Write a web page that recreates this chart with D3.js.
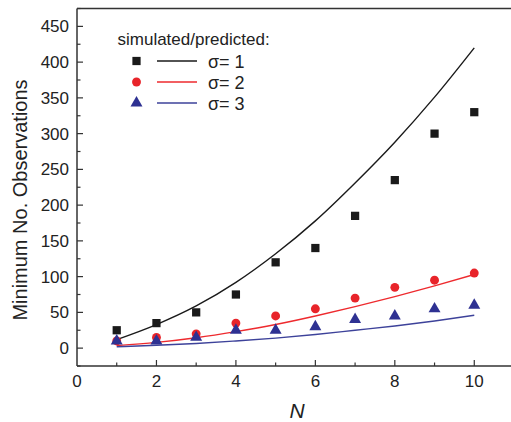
<!DOCTYPE html>
<html><head><meta charset="utf-8">
<script src="https://cdn.jsdelivr.net/npm/d3@7"></script>
<style>body{margin:0;background:#fff}svg{display:block}text{font-family:"Liberation Sans",Arial,sans-serif}</style>
</head><body>
<script>
const N = [1,2,3,4,5,6,7,8,9,10];
const sim1 = [25,35,50,75,120,140,185,235,300,330];
const sim2 = [10,15,20,35,45,55,70,85,95,105];
const sim3 = [10,10,15,25,25,30,40,45,55,60];
const pred1 = [12,33,59,92,132,178,231,288,351,420];
const pred2 = [3.5,8,14.5,23,33,45,58,72,87,103];
const pred3 = [2,4,6.5,10,14,19,25,31,38,46];
const yTicks = [0,50,100,150,200,250,300,350,400,450];
const xTicks = [0,2,4,6,8,10];
const seriesNames = ["σ= 1","σ= 2","σ= 3"];
const colors = ["#1a1a1a","#e8242a","#2e3192"];
const lineColors = ["#1a1a1a","#ee2a2e","#3d429a"];

const W=511,H=422;
const svg=d3.select("body").append("svg").attr("width",W).attr("height",H);
const L=77,T=8.5,B=366;
const x=d3.scaleLinear().domain([0,11]).range([L,L+437]);
const y=d3.scaleLinear().domain([-25,475]).range([B,T]);
const axisColor="#333";

// frame
svg.append("line").attr("x1",L).attr("x2",W).attr("y1",T).attr("y2",T).attr("stroke",axisColor).attr("stroke-width",1.5);
svg.append("line").attr("x1",L).attr("x2",W).attr("y1",B).attr("y2",B).attr("stroke",axisColor).attr("stroke-width",1.5);
svg.append("line").attr("x1",L).attr("x2",L).attr("y1",T).attr("y2",B).attr("stroke",axisColor).attr("stroke-width",1.5);

// y ticks
const yMinor=d3.range(-25,476,25);
svg.append("g").selectAll("line").data(yMinor).join("line")
 .attr("x1",L).attr("x2",d=>L+(d%50===0?6:3.5))
 .attr("y1",d=>y(d)).attr("y2",d=>y(d)).attr("stroke",axisColor).attr("stroke-width",1.2);
svg.append("g").selectAll("text").data(yTicks).join("text")
 .attr("x",L-8).attr("y",d=>y(d)+6).attr("text-anchor","end").attr("font-size",17).attr("fill","#222").text(d=>d);

// x ticks
const xMinor=d3.range(1,11,1);
svg.append("g").selectAll("line").data(xMinor).join("line")
 .attr("x1",d=>x(d)).attr("x2",d=>x(d)).attr("y1",B).attr("y2",d=>B-(d%2===0?6:3.5))
 .attr("stroke",axisColor).attr("stroke-width",1.2);
svg.append("g").selectAll("text").data(xTicks).join("text")
 .attr("x",d=>x(d)).attr("y",387).attr("text-anchor","middle").attr("font-size",17).attr("fill","#222").text(d=>d);

// axis titles
svg.append("text").attr("x",297).attr("y",418).attr("text-anchor","middle").attr("font-size",21).attr("font-style","italic").attr("fill","#222").text("N");
svg.append("text").attr("transform","translate(27,200) rotate(-90)").attr("text-anchor","middle").attr("font-size",20).attr("fill","#222").text("Minimum No. Observations");

// lines
const line=d3.line().x((d,i)=>x(N[i])).y(d=>y(d)).curve(d3.curveMonotoneX);
[pred1,pred2,pred3].forEach((p,k)=>{
  svg.append("path").datum(p).attr("d",line).attr("fill","none").attr("stroke",lineColors[k]).attr("stroke-width",1.4);
});

// markers
const sym=[d3.symbolSquare,d3.symbolCircle,d3.symbolTriangle];
const sizes=[68,62,62];
[sim1,sim2,sim3].forEach((s,k)=>{
  svg.append("g").selectAll("path").data(s).join("path")
   .attr("transform",(d,i)=>`translate(${x(N[i])},${y(d)})`)
   .attr("d",d3.symbol().type(sym[k]).size(sizes[k])).attr("fill",colors[k]);
});

// legend
svg.append("text").attr("x",117.5).attr("y",45).attr("font-size",17).attr("fill","#222").text("simulated/predicted:");
const ly=[61,82,103];
seriesNames.forEach((n,k)=>{
  svg.append("path").attr("transform",`translate(136.5,${ly[k]})`).attr("d",d3.symbol().type(sym[k]).size(sizes[k])).attr("fill",colors[k]);
  svg.append("line").attr("x1",157).attr("x2",197).attr("y1",ly[k]).attr("y2",ly[k]).attr("stroke",lineColors[k]).attr("stroke-width",1.4);
  svg.append("text").attr("x",208).attr("y",ly[k]+6.5).attr("font-size",18).attr("fill","#222").text(n);
});
</script>
</body></html>
